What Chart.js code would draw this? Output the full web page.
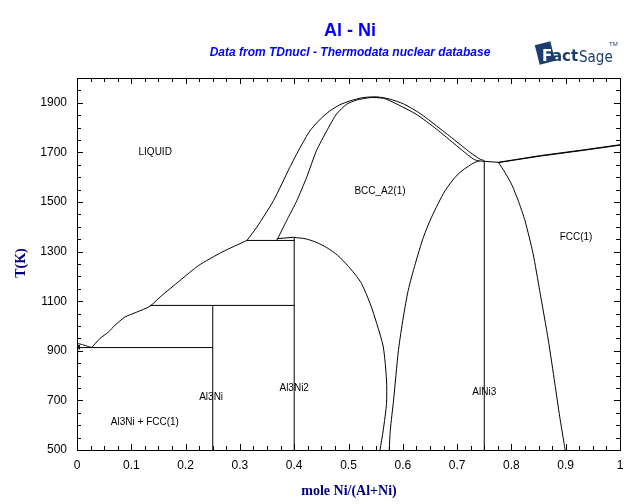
<!DOCTYPE html>
<html>
<head>
<meta charset="utf-8">
<script src="https://cdn.jsdelivr.net/npm/chart.js@4"></script>
<style>
html,body{margin:0;padding:0;background:#fff;}
#c{display:block;}
</style>
</head>
<body>
<canvas id="c" width="640" height="504"></canvas>
<script>
// ---- tick labels ----
const xTickLabels = [0, 0.1, 0.2, 0.3, 0.4, 0.5, 0.6, 0.7, 0.8, 0.9, 1];
const yTickLabels = [500, 700, 900, 1100, 1300, 1500, 1700, 1900];

// ---- phase boundaries (x = mole Ni/(Al+Ni), T in K) ----
const liqAlX = [0, 0.01, 0.02, 0.027];
const liqAlT = [930, 925, 918, 913];

const liqLowX = [0.027, 0.042, 0.058, 0.070, 0.088, 0.110, 0.134, 0.153, 0.190, 0.224, 0.267, 0.313];
const liqLowT = [913, 949, 976, 1003, 1036, 1056, 1079, 1117, 1184, 1244, 1298, 1345];

const bccLiqX = [0.313, 0.331, 0.362, 0.392, 0.411, 0.429, 0.448, 0.466, 0.484, 0.503, 0.527, 0.552, 0.576, 0.601, 0.632, 0.662, 0.693, 0.724, 0.742, 0.750];
const bccLiqT = [1345, 1398, 1506, 1640, 1720, 1787, 1834, 1868, 1892, 1908, 1921, 1924, 1915, 1896, 1857, 1807, 1754, 1700, 1673, 1667];

const bccSolX = [0.368, 0.386, 0.405, 0.423, 0.441, 0.460, 0.478, 0.497, 0.515, 0.540, 0.565, 0.589, 0.626, 0.662, 0.699, 0.730, 0.741];
const bccSolT = [1345, 1425, 1506, 1600, 1707, 1787, 1855, 1895, 1911, 1921, 1918, 1895, 1852, 1794, 1727, 1673, 1664];

const bccAl3Ni2X = [0.400, 0.420, 0.440, 0.460, 0.480, 0.500, 0.515, 0.524, 0.540, 0.552, 0.564, 0.570, 0.570, 0.564, 0.558];
const bccAl3Ni2T = [1357, 1352, 1338, 1316, 1285, 1240, 1200, 1171, 1090, 1010, 916, 782, 688, 580, 500];

const bccAlNi3X = [0.575, 0.577, 0.583, 0.592, 0.601, 0.610, 0.623, 0.638, 0.653, 0.678, 0.702, 0.727, 0.739];
const bccAlNi3T = [500, 580, 701, 902, 1036, 1144, 1251, 1358, 1439, 1546, 1613, 1653, 1666];

const fccAlNi3X = [0.776, 0.788, 0.800, 0.8125, 0.825, 0.840, 0.852, 0.868, 0.880, 0.889, 0.897, 0.899];
const fccAlNi3T = [1660, 1620, 1573, 1506, 1425, 1291, 1144, 943, 768, 634, 527, 500];

const fccLiqX = [0.776, 0.853, 0.932, 1.0];
const fccLiqT = [1660, 1687, 1710, 1731];
const fccSolX = [0.776, 0.853, 0.932, 1.0];
const fccSolT = [1659, 1685, 1708, 1729];

// invariant lines and compound lines
const eutX = [0, 0.25];            const eutT = [913, 913];
const perAl3NiX = [0.134, 0.4];    const perAl3NiT = [1083, 1083];
const perAl3Ni2X = [0.313, 0.4];   const perAl3Ni2T = [1345, 1345];
const topAl3Ni2X = [0.368, 0.4];   const topAl3Ni2T = [1352, 1358];
const perAlNi3X = [0.739, 0.75, 0.776]; const perAlNi3T = [1666, 1664, 1660];
const al3NiX = [0.25, 0.25];       const al3NiT = [500, 1083];
const al3Ni2X = [0.4, 0.4];        const al3Ni2T = [500, 1358];
const alNi3X = [0.75, 0.75];       const alNi3T = [500, 1666];
const fccAlX = [0.001, 0.001];     const fccAlT = [930, 846];
const fccAl2X = [0.001, 0.004, 0.004]; const fccAl2T = [922, 922, 906];

// ---- region labels ----
const labelTexts = ['LIQUID', 'BCC_A2(1)', 'FCC(1)', 'Al3Ni2', 'Al3Ni', 'AlNi3', 'Al3Ni + FCC(1)'];
const labelX = [0.144, 0.558, 0.919, 0.400, 0.247, 0.750, 0.125];
const labelT = [1699, 1542, 1357, 749, 713, 733, 613];

const curves = [
  [liqAlX, liqAlT, 0.2], [liqLowX, liqLowT, 0.2], [bccLiqX, bccLiqT, 0.2], [bccSolX, bccSolT, 0.2],
  [bccAl3Ni2X, bccAl3Ni2T, 0.25], [bccAlNi3X, bccAlNi3T, 0.25], [fccAlNi3X, fccAlNi3T, 0.2],
  [fccLiqX, fccLiqT, 0], [fccSolX, fccSolT, 0],
  [eutX, eutT, 0], [perAl3NiX, perAl3NiT, 0], [perAl3Ni2X, perAl3Ni2T, 0], [topAl3Ni2X, topAl3Ni2T, 0],
  [perAlNi3X, perAlNi3T, 0], [al3NiX, al3NiT, 0], [al3Ni2X, al3Ni2T, 0], [alNi3X, alNi3T, 0],
  [fccAlX, fccAlT, 0], [fccAl2X, fccAl2T, 0]
];

const datasets = curves.map(([xs, ts, tension]) => ({
  data: xs.map((x, i) => ({x: x, y: ts[i]})),
  showLine: true,
  borderColor: '#000',
  borderWidth: 1,
  pointRadius: 0,
  fill: false,
  tension: tension
}));

const decor = {
  id: 'decor',
  afterDraw(chart) {
    const ctx = chart.ctx;
    const a = chart.chartArea;
    const xs = chart.scales.x, ys = chart.scales.y;
    ctx.save();
    // frame
    ctx.strokeStyle = '#000';
    ctx.lineWidth = 1;
    ctx.strokeRect(Math.round(a.left) + 0.5, Math.round(a.top) + 0.5, Math.round(a.right - a.left), Math.round(a.bottom - a.top));
    // inward ticks
    ctx.beginPath();
    for (let i = 0; i <= 40; i++) {
      const v = i * 0.025;
      const px = Math.round(xs.getPixelForValue(v)) + 0.5;
      const len = (i % 4 === 0) ? 6 : 4;
      ctx.moveTo(px, a.bottom); ctx.lineTo(px, a.bottom - len);
      ctx.moveTo(px, a.top); ctx.lineTo(px, a.top + len);
    }
    for (let i = 0; i <= 30; i++) {
      const v = 500 + i * 50;
      const py = Math.round(ys.getPixelForValue(v)) + 0.5;
      const len = (i % 4 === 0) ? 6 : 4;
      ctx.moveTo(a.left, py); ctx.lineTo(a.left + len, py);
      ctx.moveTo(a.right, py); ctx.lineTo(a.right - len, py);
    }
    ctx.stroke();
    // region labels
    ctx.fillStyle = '#000';
    ctx.font = '10px "Liberation Sans", Arial, sans-serif';
    ctx.textAlign = 'center';
    ctx.textBaseline = 'middle';
    labelTexts.forEach((t, i) => {
      ctx.fillText(t, xs.getPixelForValue(labelX[i]), ys.getPixelForValue(labelT[i]));
    });
    // titles
    ctx.fillStyle = '#0000ff';
    ctx.font = 'bold 18px "Liberation Sans", Arial, sans-serif';
    ctx.fillText('Al - Ni', 350, 31);
    ctx.font = 'italic bold 12px "Liberation Sans", Arial, sans-serif';
    ctx.fillText('Data from TDnucl - Thermodata nuclear database', 350, 53);
    // axis titles
    ctx.fillStyle = '#000080';
    ctx.font = 'bold 14px "Liberation Serif", "Times New Roman", serif';
    ctx.fillText('mole Ni/(Al+Ni)', 349, 491);
    ctx.save();
    ctx.translate(21, 263);
    ctx.rotate(-Math.PI / 2);
    ctx.fillText('T(K)', 0, 0);
    ctx.restore();
    // FactSage logo
    ctx.save();
    ctx.translate(545, 53);
    ctx.rotate(-0.25);
    ctx.fillStyle = '#1c3d6e';
    ctx.fillRect(-8, -10, 16, 20);
    ctx.restore();
    ctx.textAlign = 'left';
    ctx.textBaseline = 'alphabetic';
    ctx.fillStyle = '#fff';
    ctx.font = 'bold 15px "DejaVu Sans", sans-serif';
    ctx.fillText('F', 542, 61);
    ctx.fillStyle = '#1c3d6e';
    ctx.fillText('act', 552, 61);
    ctx.font = '15px "Liberation Sans Narrow", "DejaVu Sans Condensed", sans-serif';
    ctx.fillText('Sage', 579, 62);
    ctx.font = '6px "Liberation Sans", sans-serif';
    ctx.fillText('TM', 609, 46);
    ctx.restore();
  }
};

new Chart(document.getElementById('c'), {
  type: 'scatter',
  data: { datasets: datasets },
  options: {
    responsive: false,
    animation: false,
    devicePixelRatio: 1,
    layout: { padding: { top: 78, right: 20, left: 0, bottom: 0 } },
    plugins: { legend: { display: false }, tooltip: { enabled: false }, title: { display: false } },
    scales: {
      x: {
        type: 'linear', min: 0, max: 1,
        grid: { display: false, drawTicks: false },
        border: { display: false },
        afterBuildTicks: (s) => { s.ticks = xTickLabels.map(v => ({ value: v })); },
        afterFit: (s) => { s.height = 54; },
        ticks: {
          color: '#000', padding: 8, maxRotation: 0,
          font: { family: '"Liberation Sans", Arial, sans-serif', size: 12 },
          callback: (v) => (v === 0 || v === 1) ? String(v) : Number(v).toFixed(1)
        }
      },
      y: {
        type: 'linear', min: 500, max: 2000,
        grid: { display: false, drawTicks: false },
        border: { display: false },
        afterBuildTicks: (s) => { s.ticks = yTickLabels.map(v => ({ value: v })); },
        afterFit: (s) => { s.width = 77; },
        ticks: {
          color: '#000', padding: 10,
          font: { family: '"Liberation Sans", Arial, sans-serif', size: 12 },
          callback: (v) => String(v)
        }
      }
    }
  },
  plugins: [decor]
});
</script>
</body>
</html>
